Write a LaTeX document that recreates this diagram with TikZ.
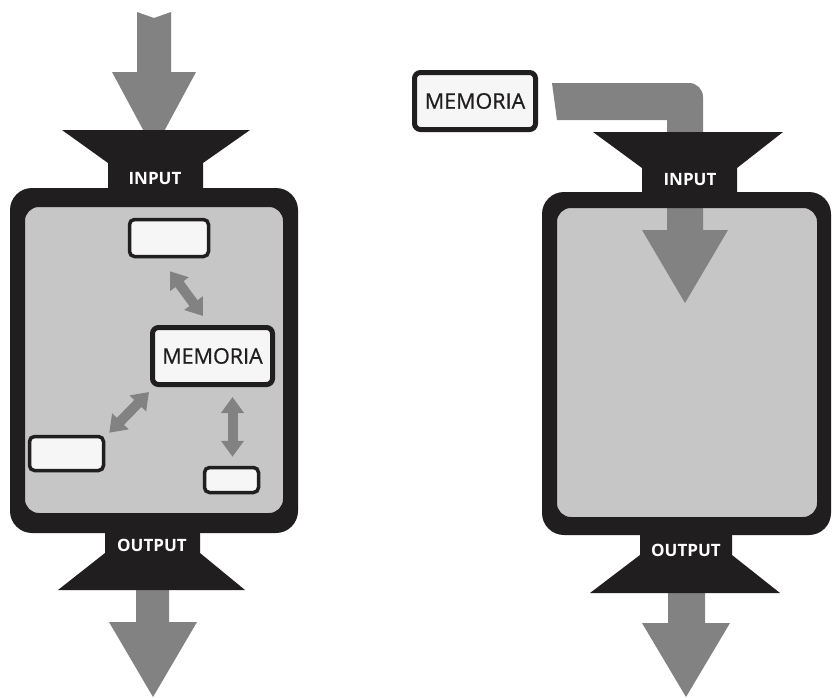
\documentclass[tikz,border=0pt]{standalone}
\usepackage{fontspec}
\setmainfont{Open Sans}
\newfontfamily\memofont[FakeBold=0.7]{Open Sans}
\usetikzlibrary{arrows.meta}
\definecolor{ink}{RGB}{32,30,31}
\definecolor{panel}{RGB}{198,198,198}
\definecolor{flow}{RGB}{130,130,130}
\definecolor{paper}{RGB}{246,246,246}
\tikzset{
 memobox/.style={draw=ink, fill=paper, line width=5pt, rounded corners=6pt, inner sep=0pt, font=\memofont\fontsize{21.5}{21.5}\selectfont, text=ink},
 unitbox/.style={draw=ink, fill=paper, line width=3.5pt, rounded corners=5pt, inner sep=0pt},
 portlabel/.style={text=white, font=\bfseries\fontsize{17}{17}\selectfont, inner sep=0pt},
 link/.style={draw=flow, line width=10pt, {Triangle[width=22pt,length=16pt]}-{Triangle[width=22pt,length=16pt]}},
 bigflow/.style={fill=flow},
 pane/.style={fill=panel},
}
\begin{document}
\begin{tikzpicture}[x=1pt,y=-1pt]
\useasboundingbox[fill=white] (0,0) rectangle (833,697);

% ---------- left system ----------
\fill[pane, rounded corners=14pt] (25,207) rectangle (283,513);
\fill[bigflow] (137,12) -- (154,18) -- (171,12) -- (171,72) -- (196,72) -- (154,150) -- (112,72) -- (137,72) -- cycle;
\fill[bigflow] (136,585) -- (169,585) -- (169,622) -- (197,622) -- (153,697) -- (109,622) -- (136,622) -- cycle;
\fill[ink, even odd rule] [rounded corners=22pt] (10,188) rectangle (298,533) [rounded corners=14pt] (25,207) rectangle (283,513);
\fill[ink] (62,130) -- (250,130) -- (203,163) -- (203,195) -- (108,195) -- (108,163) -- cycle;
\fill[ink] (105,525) -- (200,525) -- (200,553) -- (245,590) -- (58,590) -- (105,553) -- cycle;
\node[portlabel] (inL) at (155,179) {INPUT};
\node[portlabel] (outL) at (152,545) {OUTPUT};

\node[unitbox, minimum width=79pt, minimum height=37pt] (u1) at (169,238) {};
\node[memobox, minimum width=120pt, minimum height=57pt] (mem1) at (212.5,356) {MEMORIA};
\node[unitbox, minimum width=74pt, minimum height=34pt] (u2) at (66.5,453.5) {};
\node[unitbox, minimum width=54pt, minimum height=25pt] (u3) at (231.5,480) {};

\draw[link] ([xshift=1pt,yshift=-13pt]u1.south) -- ([xshift=53pt,yshift=9pt]mem1.north west);
\draw[link] ([xshift=4pt,yshift=2pt]u2.north east) -- ([xshift=-1pt,yshift=-5pt]mem1.south west);
\draw[link] ([xshift=20pt,yshift=-10pt]mem1.south) -- ([xshift=1pt,yshift=9pt]u3.north);

% ---------- right system ----------
\fill[pane, rounded corners=14pt] (557,208) rectangle (817,517);
\fill[bigflow] (557,120) -- (552,83) [rounded corners=14pt] -- (703,83) -- (703,150) [sharp corners] -- (703,230) -- (728,230) -- (685,303) -- (642,230) -- (667,230) -- (667,120) -- cycle;
\fill[bigflow] (668,588) -- (705,588) -- (705,623) -- (730,623) -- (686,697) -- (642,623) -- (668,623) -- cycle;
\fill[ink, even odd rule] [rounded corners=22pt] (542,192) rectangle (831,535) [rounded corners=14pt] (557,208) rectangle (817,517);
\fill[ink] (593,132) -- (783,132) -- (737,168) -- (737,198) -- (642,198) -- (642,168) -- cycle;
\fill[ink] (640,528) -- (732,528) -- (732,555) -- (780,593) -- (590,593) -- (640,555) -- cycle;
\node[portlabel] (inR) at (690,180) {INPUT};
\node[portlabel] (outR) at (686,550) {OUTPUT};

\node[memobox, minimum width=121pt, minimum height=57pt] (mem2) at (475,101) {MEMORIA};
\end{tikzpicture}
\end{document}
